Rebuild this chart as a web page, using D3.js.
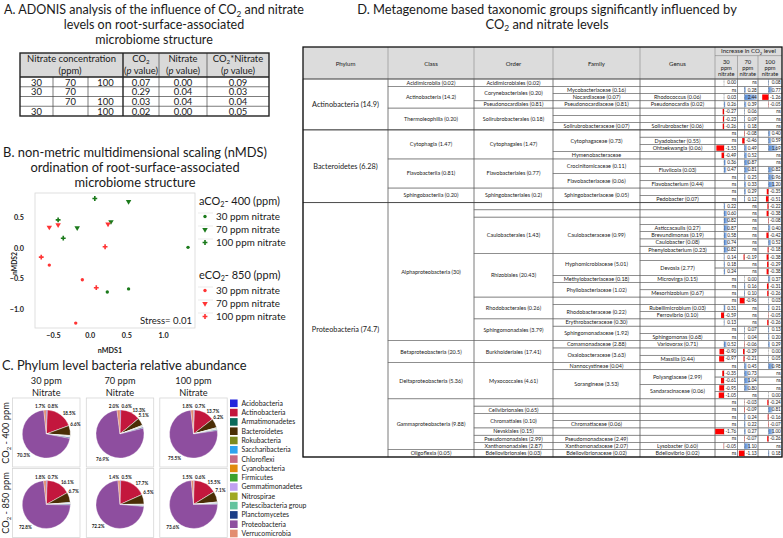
<!DOCTYPE html>
<html><head><meta charset="utf-8">
<script src="https://cdn.jsdelivr.net/npm/d3@7"></script>
<style>body{margin:0;background:#fff}svg{display:block}</style>
</head><body>
<script>
// ================= DATA =================
// Panel A – ADONIS
const adonisNitrate = [["30","70","100"],["30","70",""],["","70","100"],["30","","100"]];
const adonisCO2 = [0.07,0.29,0.03,0.02];
const adonisNit = [0.00,0.04,0.04,0.00];
const adonisInt = [0.09,0.03,0.04,0.05];

// Panel B – nMDS points [nMDS1, nMDS2]
const a30 = [[1.34,0.01],[0.53,-0.67],[0.24,-0.72]];
const a70 = [[0.53,0.76],[-0.17,0.33],[0.29,0.43]];
const a100 = [[0.07,0.81],[-0.43,0.46],[-0.36,0.16]];
const e30 = [[-0.55,-0.28],[-0.10,-0.52],[-0.19,-1.23]];
const e70 = [[-0.55,0.34],[-0.43,0.38],[0.25,0.39]];
const e100 = [[0.21,0.02],[-0.66,-0.15],[0.09,-0.65]];
const xTicksB = [-0.5,0.0,0.5,1.0];
const yTicksB = [0.5,0.0,-0.5,-1.0];

// Panel C – phylum relative abundance (%)
const phyla = ["Acidobacteria","Actinobacteria","Armatimonadetes","Bacteroidetes","Rokubacteria","Saccharibacteria","Chloroflexi","Cyanobacteria","Firmicutes","Gemmatimonadetes","Nitrospirae","Patescibacteria group","Planctomycetes","Proteobacteria","Verrucomicrobia"];
const phylaColors = ["#2323dc","#c3173d","#0b6b5c","#4a2e05","#7d8a1e","#2ea3ee","#c46a85","#e08a0c","#3ca22e","#c0a0f0","#a0a824","#63c39d","#1b3d86","#8e4e9f","#e28d70"];
const p400_30 = [0.8,18.5,0.1,6.6,0.1,0.2,0.3,0.1,0.2,0.3,0.1,0.1,0.6,70.3,1.7];
const p400_70 = [0.6,13.3,0.1,5.1,0.1,0.2,0.3,0.1,0.2,0.3,0.1,0.1,0.6,76.9,2.0];
const p400_100 = [0.7,13.7,0.1,6.2,0.1,0.2,0.3,0.1,0.2,0.3,0.1,0.1,0.6,75.5,1.8];
const p850_30 = [0.7,16.1,0.1,6.7,0.1,0.2,0.3,0.1,0.2,0.2,0.1,0.1,0.5,72.8,1.8];
const p850_70 = [0.5,17.7,0.1,6.5,0.1,0.1,0.3,0.1,0.2,0.2,0.1,0.1,0.4,72.2,1.4];
const p850_100 = [0.6,15.5,0.1,7.1,0.1,0.1,0.3,0.1,0.2,0.2,0.1,0.1,0.4,73.6,1.5];
const pieCols = ["30 ppm","70 ppm","100 ppm"];

// Panel D – taxonomy table [label, rows spanned]
const dPhylum = [["Actinobacteria (14.9)",7],["Bacteroidetes (6.28)",10],["Proteobacteria (74.7)",35]];
const dClass = [["Acidimicrobiia (0.02)",1],["Actinobacteria (14.2)",3],["Thermoleophilia (0.20)",3],
 ["Cytophagia (1.47)",4],["Flavobacteriia (0.81)",4],["Sphingobacteriia (0.20)",2],
 ["Alphaproteobacteria (30)",19],["Betaproteobacteria (20.5)",3],["Deltaproteobacteria (5.36)",5],["Gammaproteobacteria (9.88)",7],["Oligoflexia (0.05)",1]];
const dOrder = [["Acidimicrobiales (0.02)",1],["Corynebacteriales (0.20)",2],["Pseudonocardiales (0.81)",1],["Solirubrobacterales (0.18)",3],
 ["Cytophagales (1.47)",4],["Flavobacteriales (0.77)",4],["Sphingobacteriales (0.2)",2],
 ["",1],["",1],["Caulobacterales (1.43)",5],["Rhizobiales (20.43)",6],["Rhodobacterales (0.26)",3],["Sphingomonadales (3.79)",3],
 ["Burkholderiales (17.41)",3],["Myxococcales (4.61)",5],
 ["",1],["Cellvibrionales (0.65)",1],["Chromatiales (0.10)",2],["Nevskiales (0.15)",1],["Pseudomonadales (2.99)",1],["Xanthomonadales (2.87)",1],
 ["Bdellovibrionales (0.03)",1]];
const dFamily = [["",1],["Mycobacteriaceae (0.16)",1],["Nocardiaceae (0.07)",1],["Pseudonocardiaceae (0.81)",1],["",1],["",1],["Solirubrobacteraceae (0.07)",1],
 ["Cytophagaceae (0.73)",3],["Hymenobacteraceae",1],["Crocinitomicaceae (0.11)",2],["Flavobacteriaceae (0.06)",2],["Sphingobacteriaceae (0.05)",2],
 ["",1],["",1],["Caulobacteraceae (0.99)",5],["Hyphomicrobiaceae (5.01)",3],["Methylobacteriaceae (0.18)",1],["Phyllobacteriaceae (1.02)",2],["",1],["Rhodobacteraceae (0.22)",2],["Erythrobacteraceae (0.30)",1],["Sphingomonadaceae (1.92)",2],
 ["Comamonadaceae (2.88)",1],["Oxalobacteraceae (3.63)",2],
 ["Nannocystineae (0.04)",1],["Sorangineae (3.53)",4],
 ["",1],["",1],["",1],["Chromatiaceae (0.06)",1],["",1],["Pseudomonadaceae (2.49)",1],["Xanthomonadaceae (2.07)",1],
 ["Bdellovibrionaceae (0.02)",1]];
const dGenus = [["",1],["",1],["Rhodococcus (0.06)",1],["Pseudonocardia (0.02)",1],["",1],["",1],["Solirubrobacter (0.06)",1],
 ["",1],["Dyadobacter (0.55)",1],["Ohtaekwangia (0.06)",1],["",1],["",1],["Fluviicola (0.03)",1],["",1],["Flavobacterium (0.44)",1],["",1],["Pedobacter (0.07)",1],
 ["",1],["",1],["",1],["Asticcacaulis (0.27)",1],["Brevundimonas (0.19)",1],["Caulobacter (0.08)",1],["Phenylobacterium (0.23)",1],
 ["",1],["Devosia (2.77)",2],["Microvirga (0.15)",1],["",1],["Mesorhizobium (0.67)",1],
 ["",1],["Rubellimicrobium (0.03)",1],["Ferrovibrio (0.10)",1],
 ["",1],["",1],["Sphingomonas (0.68)",1],
 ["Variovorax (0.71)",1],["",1],["Massilia (0.44)",1],
 ["",1],["Polyangiaceae (2.99)",2],["Sandaracinaceae (0.06)",2],
 ["",1],["",1],["",1],["",1],["",1],["",1],["Lysobacter (0.60)",1],
 ["Bdellovibrio (0.02)",1]];
// null = ns
const inc30 = [0.00,null,0.03,0.26,-0.27,-0.23,-0.26, null,null,-1.53,-0.49,0.36,0.47,null,null,null,null,
 0.22,0.60,0.82,0.87,0.58,0.74,0.82,0.14,0.18,0.24,null,null,null,null,0.31,-0.59,0.13,null,null,
 0.52,-0.90,-0.97,null,-0.35,-0.61,-0.95,-1.05,null,null,null,null,-1.76,null,-0.05,null];
const inc70 = [null,0.28,2.44,0.39,0.06,0.09,0.18, -0.08,-0.46,0.49,0.52,0.87,0.81,0.25,0.33,0.29,0.12,
 null,null,null,null,null,null,null,-0.19,null,null,0.00,0.16,0.10,-0.96,null,null,null,0.07,0.04,
 -0.06,-0.29,-0.21,0.45,0.73,1.04,0.80,null,-0.03,-0.09,0.24,0.22,0.27,-0.07,1.10,-1.13];
const inc100 = [0.08,0.77,-1.26,-0.05,null,null,null, 0.40,0.59,1.69,null,null,0.82,0.96,1.20,-0.35,-0.51,
 -0.22,-0.38,-0.08,0.40,-0.42,0.52,-0.18,-0.38,-0.29,-0.38,0.37,-0.31,-0.26,0.03,0.21,-0.05,-0.26,0.13,0.20,
 0.29,0.00,0.05,0.98,null,null,null,0.00,-0.24,0.81,-0.16,-0.07,1.00,-0.26,null,0.18];
const incHeads = [["30","ppm","nitrate"],["70","ppm","nitrate"],["100","ppm","nitrate"]];

// ================= HELPERS =================
const FONT = "Lato, 'Open Sans', sans-serif";
const svg = d3.select("body").append("svg").attr("width",783).attr("height",538)
  .style("font-family",FONT);

function rich(parent,x,cy,parts,size,anchor,weight,fill){
  const t = parent.append("text").attr("x",x).attr("y",cy+size*0.35)
    .attr("font-size",size).attr("text-anchor",anchor||"middle")
    .attr("font-weight",weight||"normal").attr("fill",fill||"#1a1a1a");
  let shifted=false;
  parts.forEach(p=>{
    let ts;
    if(typeof p==="string"){ ts=t.append("tspan").text(p); }
    else if(p.sub!==undefined){ t.append("tspan").attr("font-size",size*0.66).attr("dy",size*0.2).text(p.sub); shifted=true; return; }
    else if(p.it!==undefined){ ts=t.append("tspan").attr("font-style","italic").text(p.it); }
    if(shifted){ ts.attr("dy",-size*0.2); shifted=false; }
  });
  return t;
}
function textW(parts,size,weight){ const t=rich(svg,0,-60,parts,size,"start",weight); const w=t.node().getComputedTextLength(); t.remove(); return w; }
function fit(parts,target,weight){ return 10*target/textW(parts,10,weight); }
function line(g,x1,y1,x2,y2,c,w){ return g.append("line").attr("x1",x1).attr("y1",y1).attr("x2",x2).attr("y2",y2).attr("stroke",c).attr("stroke-width",w); }

// ================= PANEL A =================
const gA = svg.append("g");
const aTitle = [["A. ADONIS analysis of the influence of CO",{sub:"2"}," and nitrate"],["levels on root-surface-associated"],["microbiome structure"]];
const fsA = fit(aTitle[0],300);
aTitle.forEach((l,i)=>rich(gA,154,10+15*i,l,fsA));

const axA = [20,53,88,123,159,207,269];
const yA = d3.scaleLinear().domain([0,4]).range([77,116]);
gA.append("rect").attr("x",axA[0]).attr("y",53).attr("width",axA[6]-axA[0]).attr("height",24).attr("fill","#d9d9d9");
const fsTA = fit(["Nitrate concentration"],89);
rich(gA,71.5,59,["Nitrate concentration"],fsTA);
rich(gA,70,70.5,["(ppm)"],fsTA);
rich(gA,141,59,["CO",{sub:"2"}],fsTA);
rich(gA,141,70.5,["(",{it:"p"}," value)"],fsTA);
rich(gA,183,59,["Nitrate"],fsTA);
rich(gA,183,70.5,["(",{it:"p"}," value)"],fsTA);
rich(gA,238,59,["CO",{sub:"2"},"*Nitrate"],fsTA);
rich(gA,238,70.5,["(",{it:"p"}," value)"],fsTA);
adonisNitrate.forEach((row,r)=>{
  const cy=(yA(r)+yA(r+1))/2+0.5;
  row.forEach((v,c)=>{ if(v) rich(gA,(axA[c]+axA[c+1])/2,cy,[v],fsTA); });
  rich(gA,141,cy,[adonisCO2[r].toFixed(2)],fsTA);
  rich(gA,183,cy,[adonisNit[r].toFixed(2)],fsTA);
  rich(gA,238,cy,[adonisInt[r].toFixed(2)],fsTA);
  if(r>0) line(gA,axA[0],yA(r),axA[6],yA(r),"#444",0.7);
});
[1,2].forEach(i=>line(gA,axA[i],77,axA[i],116,"#444",0.7));
[4,5].forEach(i=>line(gA,axA[i],53,axA[i],116,"#444",0.7));
line(gA,axA[3],53,axA[3],116,"#222",1.4);
line(gA,axA[0],77,axA[6],77,"#222",1.4);
gA.append("rect").attr("x",axA[0]).attr("y",53).attr("width",axA[6]-axA[0]).attr("height",63).attr("fill","none").attr("stroke","#222").attr("stroke-width",1.4);

// ================= PANEL B =================
const gB = svg.append("g");
const bTitle = [["B. non-metric multidimensional scaling (nMDS)"],["ordination of root-surface-associated"],["microbiome structure"]];
const fsB = fit(bTitle[0],264);
bTitle.forEach((l,i)=>rich(gB,135,152+15*i,l,fsB));
const xB = d3.scaleLinear().domain([-0.745,1.435]).range([35,195]);
const yB = d3.scaleLinear().domain([-1.31,0.9]).range([328,193]);
gB.append("rect").attr("x",35).attr("y",193).attr("width",160).attr("height",135).attr("fill","none").attr("stroke","#d8d8d8").attr("stroke-width",0.8);
const fsTick = 7.2;
const axX = gB.append("g").attr("transform","translate(0,328)").call(d3.axisBottom(xB).tickValues(xTicksB).tickFormat(d3.format(".1f")).tickSize(0).tickPadding(5));
const axY = gB.append("g").attr("transform","translate(35,0)").call(d3.axisLeft(yB).tickValues(yTicksB).tickFormat(d3.format(".1f")).tickSize(0).tickPadding(11));
[axX,axY].forEach(a=>{ a.select(".domain").remove(); a.selectAll("text").attr("font-size",fsTick).attr("font-weight","bold").attr("font-family",FONT).attr("fill","#222"); });
rich(gB,110,350,["nMDS1"],7.2,"middle","bold");
const gY = gB.append("g").attr("transform","translate(15,263.5) rotate(-90)");
rich(gY,0,0,["nMDS2"],6.8,"middle","bold");
const GREEN="#1b7a1b", RED="#ff3434";
const symDot = d3.symbol().type(d3.symbolCircle).size(9);
const symTri = d3.symbol().type(d3.symbolTriangle).size(13);
const symCross = d3.symbol().type(d3.symbolCross).size(13);
function pts(data,sym,color,rot){
  gB.selectAll(null).data(data).enter().append("path").attr("d",sym)
    .attr("transform",d=>`translate(${xB(d[0])},${yB(d[1])})${rot?" rotate(180)":""}`).attr("fill",color);
}
pts(a30,symDot,GREEN); pts(a70,symTri,GREEN,true); pts(a100,symCross,GREEN);
pts(e30,symDot,RED); pts(e70,symTri,RED,true); pts(e100,symCross,RED);
rich(gB,192,321,["Stress= 0.01"],fit(["Stress= 0.01"],52),"end");
// legend
const fsLg1 = fit(["aCO",{sub:"2"},"- 400 (ppm)"],81);
const fsLg2 = fit(["30 ppm nitrate"],64);
const legB = [{t:["aCO",{sub:"2"},"- 400 (ppm)"],y:201,c:GREEN},{t:["eCO",{sub:"2"},"- 850 (ppm)"],y:275,c:RED}];
legB.forEach(L=>{
  rich(gB,199,L.y,L.t,fsLg1,"start");
  [["30 ppm nitrate",symDot,false],["70 ppm nitrate",symTri,true],["100 ppm nitrate",symCross,false]].forEach((e,i)=>{
    const yy=L.y+15.5+13*i;
    line(gB,198,yy-3.5,213,yy-3.5,"#e6e6e6",0.8);
    gB.append("path").attr("d",e[1]).attr("transform",`translate(205,${yy})${e[2]?" rotate(180)":""}`).attr("fill",L.c);
    rich(gB,216,yy,[e[0]],fsLg2,"start");
  });
});

// ================= PANEL C =================
const gC = svg.append("g");
rich(gC,2,365,["C. Phylum level bacteria relative abundance"],fit(["C. Phylum level bacteria relative abundance"],245),"start");
const colX = [46.3,120,193.5];
const fsPH = fit(["30 ppm"],31);
pieCols.forEach((c,i)=>{ rich(gC,colX[i],381,[c],fsPH); rich(gC,colX[i],392.5,["Nitrate"],fsPH); });
const gR1 = gC.append("g").attr("transform","translate(6,433) rotate(-90)");
rich(gR1,0,0,["CO",{sub:"2"}," - 400 ppm"],fsPH);
const gR2 = gC.append("g").attr("transform","translate(6,503) rotate(-90)");
rich(gR2,0,0,["CO",{sub:"2"}," - 850 ppm"],fsPH);
const pieRows = [[p400_30,p400_70,p400_100],[p850_30,p850_70,p850_100]];
const rowY = [432.5,503];
const R = 24;
const pieGen = d3.pie().sort(null).value(d=>d);
const arcGen = d3.arc().innerRadius(0).outerRadius(R);
const fsPct = fit(["18.5%"],13,"bold");
pieRows.forEach((row,ri)=>row.forEach((vals,ci)=>{
  const cx=colX[ci], cy=rowY[ri];
  gC.append("rect").attr("x",cx-33.7).attr("y",cy-34.5).attr("width",67.4).attr("height",69).attr("fill","#fff").attr("stroke","#d6d6d6").attr("stroke-width",0.8);
  const g=gC.append("g").attr("transform",`translate(${cx},${cy+1.5})`);
  const arcs=pieGen(vals);
  g.selectAll("path").data(arcs).enter().append("path").attr("d",arcGen).attr("fill",(d,i)=>phylaColors[i]).attr("stroke","#fff").attr("stroke-width",0.3);
  const lab=(i)=>vals[i].toFixed(1)+"%";
  const mid=(i)=>(arcs[i].startAngle+arcs[i].endAngle)/2;
  rich(g,-1,-R-3.5,[lab(14)],fsPct,"end","bold");
  rich(g,1.5,-R-3.5,[lab(0)],fsPct,"start","bold");
  let a=mid(1); rich(g,(R+2)*Math.sin(a)+1,-(R+2)*Math.cos(a),[lab(1)],fsPct,"start","bold");
  a=mid(3)-0.25; rich(g,(R+2)*Math.sin(a),-(R+2)*Math.cos(a),[lab(3)],fsPct,"start","bold");
  a=mid(13); rich(g,(R+7)*Math.sin(a),-(R+7)*Math.cos(a),[lab(13)],fsPct,"middle","bold");
}));
const fsLC = fit(["Acidobacteria"],41.5);
phyla.forEach((p,i)=>{
  const yy=403.3+9.3*i;
  gC.append("rect").attr("x",230).attr("y",yy-3.8).attr("width",7.6).attr("height",7.6).attr("fill",phylaColors[i]);
  rich(gC,241.5,yy,[p],fsLC,"start");
});

// ================= PANEL D =================
const gD = svg.append("g");
const dTitle = [["D. Metagenome based taxonomic groups significantly influenced by"],["CO",{sub:"2"}," and nitrate levels"]];
const fsD = fit(dTitle[0],380);
dTitle.forEach((l,i)=>rich(gD,547,9+15*i,l,fsD));
const dx = [303,388,474,553,640,715,737.5,758,782];
const dTop=47, dHead=79, dBot=457, nRows=inc30.length;
const yD = d3.scaleLinear().domain([0,nRows]).range([dHead,dBot]);
const defs = svg.append("defs");
const gr = defs.append("linearGradient").attr("id","blueBar");
gr.append("stop").attr("offset","0%").attr("stop-color","#4f86d4");
gr.append("stop").attr("offset","100%").attr("stop-color","#b9d0f2");
gD.append("rect").attr("x",dx[0]).attr("y",dTop).attr("width",dx[8]-dx[0]).attr("height",dHead-dTop).attr("fill","#dcdcdc");
const fsCell = fit(["Acidimicrobiia (0.02)"],49);
const fsPhy = fit(["Actinobacteria (14.9)"],67);
const fsVal = fit(["0.00"],9.2);
["Phylum","Class","Order","Family","Genus"].forEach((h,i)=>rich(gD,(dx[i]+dx[i+1])/2,64,[h],fsCell*1.1));
rich(gD,(dx[5]+dx[8])/2,51.3,["Increase in CO",{sub:"2"}," level"],fit(["Increase in CO",{sub:"2"}," level"],55));
incHeads.forEach((h,c)=>h.forEach((t,k)=>rich(gD,(dx[5+c]+dx[6+c])/2,61.5+6*k,[t],fsCell*1.05)));
[1,2,3,4,5].forEach(i=>line(gD,dx[i],dTop,dx[i],dHead,"#777",0.5));
[6,7].forEach(i=>line(gD,dx[i],55.6,dx[i],dHead,"#777",0.5));
line(gD,dx[5],55.6,dx[8],55.6,"#777",0.5);
line(gD,dx[0],dHead,dx[8],dHead,"#333",0.8);

function spans(list,c,fs){
  let r=0;
  list.forEach(([lab,n])=>{
    const y0=yD(r), y1=yD(r+n);
    gD.append("rect").attr("x",dx[c]).attr("y",y0).attr("width",dx[c+1]-dx[c]).attr("height",y1-y0).attr("fill","none").attr("stroke","#6a6a6a").attr("stroke-width",0.5);
    if(lab) rich(gD,(dx[c]+dx[c+1])/2,(y0+y1)/2,[lab],fs);
    r+=n;
  });
}
spans(dPhylum,0,fsPhy); spans(dClass,1,fsCell); spans(dOrder,2,fsCell); spans(dFamily,3,fsCell); spans(dGenus,4,fsCell);
const barW = d3.scaleLinear().domain([0,2.5]).range([0,12.5]);
[inc30,inc70,inc100].forEach((vals,c)=>{
  const x0=dx[5+c], x1=dx[6+c], ax=x1-13.5;
  vals.forEach((v,r)=>{
    const y0=yD(r), y1=yD(r+1);
    gD.append("rect").attr("x",x0).attr("y",y0).attr("width",x1-x0).attr("height",y1-y0).attr("fill","none").attr("stroke","#6a6a6a").attr("stroke-width",0.5);
    if(v!==null){
      const w=barW(Math.abs(v));
      if(w>0) gD.append("rect").attr("x",v<0?ax-w:ax).attr("y",y0+0.9).attr("width",w).attr("height",y1-y0-1.8).attr("fill",v<0?"#ff0000":"url(#blueBar)");
      line(gD,ax,y0+0.6,ax,y1-0.6,"#333",0.45).attr("stroke-dasharray","0.8,0.6");
    }
    const txt = v===null?"ns":(v<0?"-":"")+Math.abs(v).toFixed(2);
    rich(gD,x1-1.2,(y0+y1)/2,[txt],fsVal,"end");
  });
});
// phylum separators & outer border
let acc=0; dPhylum.forEach(([_,n],i)=>{ acc+=n; if(i<dPhylum.length-1) line(gD,dx[0],yD(acc),dx[8],yD(acc),"#333",0.7); });
gD.append("rect").attr("x",dx[0]).attr("y",dTop).attr("width",dx[8]-dx[0]).attr("height",dBot-dTop).attr("fill","none").attr("stroke","#111").attr("stroke-width",1.3);
</script>
</body></html>
